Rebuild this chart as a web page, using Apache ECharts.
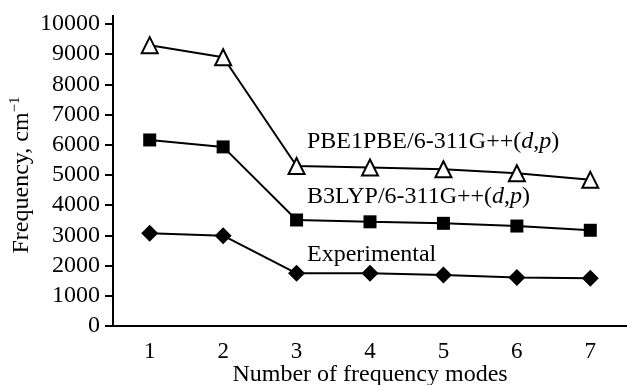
<!DOCTYPE html>
<html>
<head>
<meta charset="utf-8">
<script src="https://cdn.jsdelivr.net/npm/echarts@6/dist/echarts.min.js"></script>
<style>
  html, body { margin: 0; padding: 0; background: #fff; }
  #chart { width: 627px; height: 385px; }
</style>
</head>
<body>
<div id="chart"></div>
<script>
var chart = echarts.init(document.getElementById('chart'));

// frequency modes 1..7
var modos = ['1', '2', '3', '4', '5', '6', '7'];
var pbe = [9300, 8900, 5300, 5250, 5190, 5060, 4840];
var b3lyp = [6160, 5930, 3510, 3450, 3400, 3310, 3170];
var experimental = [3070, 2990, 1745, 1745, 1690, 1610, 1580];

var fuente = 'Liberation Serif';
var negro = '#000';

function serie(nombre, datos, simbolo, tam, relleno) {
    return {
        name: nombre, type: 'line', data: datos,
        symbol: simbolo, symbolSize: tam,
        lineStyle: { color: negro, width: 2 },
        itemStyle: { color: relleno, borderColor: negro, borderWidth: relleno === '#fff' ? 2 : 0 },
        z: 3
    };
}

var option = {
    animation: false,
    textStyle: { fontFamily: fuente },
    grid: { left: 113, right: 0, top: 24, bottom: 59, containLabel: false, outerBoundsMode: 'none' },
    xAxis: {
        type: 'category', data: modos, boundaryGap: true,
        name: 'Number of frequency modes', nameLocation: 'middle', nameGap: 37, nameMoveOverlap: false,
        nameTextStyle: { fontFamily: fuente, fontSize: 24, color: negro },
        axisLine: { lineStyle: { color: negro, width: 2 } },
        axisTick: { inside: true, length: 8, lineStyle: { color: negro, width: 2 } },
        axisLabel: { fontFamily: fuente, fontSize: 23, color: negro, margin: 14 }
    },
    yAxis: {
        type: 'value', min: 0, max: 10000, interval: 1000,
        name: 'Frequency, cm{s|\u22121}', nameLocation: 'middle', nameGap: 78, nameMoveOverlap: false,
        nameTextStyle: {
            fontFamily: fuente, fontSize: 24, color: negro,
            rich: { s: { fontFamily: fuente, fontSize: 15, color: negro, verticalAlign: 'top', padding: [0, 0, 12, 0] } }
        },
        splitLine: { show: false },
        // short stub above the top tick, like the original
        axisLine: { show: true, symbol: ['none', 'rect'], symbolSize: [2, 18], lineStyle: { color: negro, width: 2 } },
        axisTick: { show: true, length: 8, lineStyle: { color: negro, width: 2 } },
        axisLabel: {
            fontFamily: fuente, fontSize: 24, color: negro, margin: 13,
            formatter: function (v) { return String(v); }
        }
    },
    graphic: [
        { type: 'text', left: 307, top: 130, style: { text: 'PBE1PBE/6-311G++({i|d},{i|p})', font: '24px "Liberation Serif"', fill: negro, rich: { i: { fontStyle: 'italic', fontFamily: fuente, fontSize: 24 } } } },
        { type: 'text', left: 307, top: 185, style: { text: 'B3LYP/6-311G++({i|d},{i|p})', font: '24px "Liberation Serif"', fill: negro, rich: { i: { fontStyle: 'italic', fontFamily: fuente, fontSize: 24 } } } },
        { type: 'text', left: 307, top: 243, style: { text: 'Experimental', font: '24px "Liberation Serif"', fill: negro } }
    ],
    series: [
        serie('PBE1PBE/6-311G++(d,p)', pbe, 'triangle', 16, '#fff'),
        serie('B3LYP/6-311G++(d,p)', b3lyp, 'rect', 13, negro),
        serie('Experimental', experimental, 'diamond', 17, negro)
    ]
};

chart.setOption(option);
</script>
</body>
</html>
